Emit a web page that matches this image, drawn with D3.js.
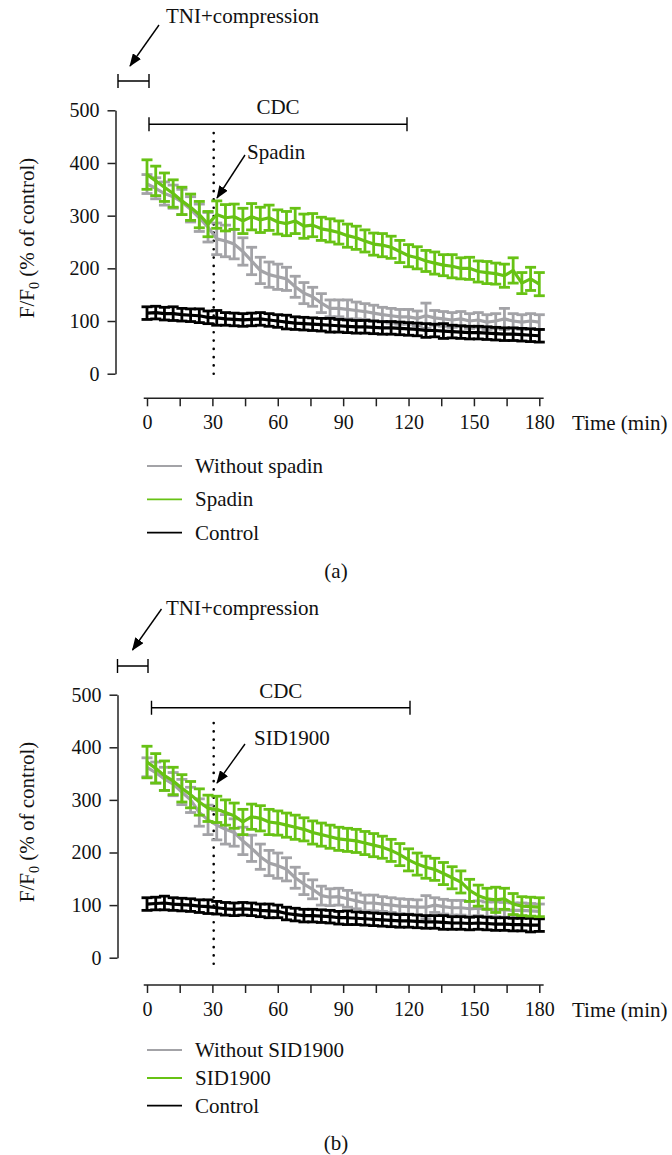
<!DOCTYPE html>
<html>
<head>
<meta charset="utf-8">
<script src="https://cdn.jsdelivr.net/npm/d3@7"></script>
<style>
  body { margin: 0; background: #fff; }
  svg { display: block; }
  svg text { font-family: 'Liberation Serif', 'Times New Roman', 'DejaVu Serif', serif; }
</style>
</head>
<body>
<svg id="chart" width="672" height="1155"></svg>
<script>
// sampling times (min)
const times = [0, 4, 8, 12, 16, 20, 24, 28, 32, 36, 40, 44, 48, 52, 56, 60, 64, 68, 72, 76,
    80, 84, 88, 92, 96, 100, 104, 108, 112, 116, 120, 124, 128, 132, 136, 140, 144, 148, 152, 156,
    160, 164, 168, 172, 176, 180];

// panel (a)
const aWithout = [360, 352, 342, 336, 326, 312, 296, 278, 256, 252, 246, 232, 214, 196, 188, 184, 180, 165, 153, 146,
    134, 124, 124, 122, 120, 118, 115, 112, 110, 108, 108, 105, 110, 106, 104, 102, 104, 100, 102, 98,
    100, 104, 100, 98, 100, 98];
const aWithoutErr = [18, 20, 22, 22, 24, 24, 26, 28, 30, 30, 28, 26, 26, 25, 24, 24, 22, 20, 20, 18,
    18, 16, 16, 18, 16, 15, 15, 14, 14, 14, 14, 14, 24, 14, 14, 14, 14, 14, 14, 14,
    14, 20, 14, 14, 14, 14];
const aSpadin = [378, 366, 354, 342, 328, 316, 302, 284, 302, 296, 298, 290, 298, 292, 296, 288, 285, 290, 280, 282,
    275, 272, 268, 262, 258, 252, 246, 244, 240, 232, 224, 220, 214, 210, 206, 204, 200, 200, 194, 192,
    190, 186, 196, 172, 180, 170];
const aSpadinErr = [28, 28, 27, 26, 26, 25, 25, 24, 26, 25, 24, 24, 25, 24, 24, 23, 23, 24, 23, 22,
    22, 22, 22, 22, 22, 21, 21, 22, 21, 21, 21, 21, 20, 21, 20, 22, 20, 21, 20, 21,
    20, 22, 24, 20, 22, 22];
const aControl = [115, 116, 114, 114, 112, 111, 110, 107, 106, 104, 103, 102, 103, 104, 102, 100, 98, 96, 95, 94,
    93, 92, 91, 90, 89, 89, 88, 87, 87, 86, 85, 84, 82, 82, 81, 80, 79, 78, 78, 77,
    76, 75, 75, 74, 73, 72];
const aControlErr = [12, 12, 12, 13, 12, 12, 13, 12, 14, 12, 12, 12, 12, 12, 12, 12, 13, 12, 12, 12,
    12, 13, 12, 12, 12, 12, 12, 12, 12, 12, 12, 12, 13, 12, 14, 12, 12, 12, 12, 12,
    12, 12, 12, 12, 12, 12];

// panel (b)
const bWithout = [362, 352, 340, 330, 315, 300, 276, 262, 252, 244, 238, 222, 208, 192, 180, 175, 168, 152, 140, 130,
    118, 115, 116, 112, 108, 104, 104, 102, 100, 98, 97, 96, 96, 100, 97, 95, 95, 93, 94, 92,
    92, 91, 90, 90, 89, 88];
const bWithoutErr = [18, 20, 22, 22, 24, 24, 26, 28, 28, 28, 26, 26, 25, 24, 24, 24, 22, 20, 20, 18,
    18, 16, 16, 16, 15, 15, 15, 14, 14, 14, 14, 14, 22, 14, 14, 14, 14, 14, 14, 14,
    14, 14, 14, 14, 14, 14];
const bSid = [372, 360, 346, 336, 322, 310, 296, 284, 282, 276, 270, 258, 268, 265, 258, 256, 252, 248, 244, 238,
    234, 230, 226, 224, 222, 218, 214, 210, 204, 196, 186, 178, 172, 168, 160, 152, 144, 128, 118, 112,
    110, 112, 102, 98, 97, 96];
const bSidErr = [30, 28, 28, 26, 26, 25, 25, 25, 25, 24, 24, 24, 24, 24, 24, 23, 23, 23, 22, 22,
    22, 22, 22, 22, 22, 22, 22, 21, 21, 21, 21, 21, 21, 21, 21, 21, 21, 21, 20, 20,
    24, 20, 20, 18, 18, 18];
const bControl = [102, 103, 104, 102, 101, 100, 98, 97, 95, 93, 92, 93, 92, 90, 89, 88, 84, 82, 80, 80,
    79, 78, 76, 76, 75, 74, 73, 72, 71, 70, 70, 69, 68, 68, 67, 66, 66, 65, 66, 65,
    64, 64, 63, 63, 62, 62];
const bControlErr = [12, 12, 13, 12, 12, 12, 12, 13, 12, 12, 12, 12, 12, 12, 13, 12, 12, 12, 12, 12,
    12, 12, 12, 13, 12, 12, 12, 12, 12, 12, 12, 12, 12, 12, 13, 12, 12, 12, 12, 12,
    12, 12, 12, 12, 13, 12];

const yTicks = [0, 100, 200, 300, 400, 500],
    xTicks = [0, 15, 30, 45, 60, 75, 90, 105, 120, 135, 150, 165, 180],
    colors = { without: '#a3a3a7', drug: '#67c214', control: '#000000' },
    serif = "'Liberation Serif', 'Times New Roman', 'DejaVu Serif', serif",
    capHalf = 5.5;

const svg = d3.select('#chart').attr('font-family', serif);

svg.append('defs').append('marker')
    .attr('id', 'arrow')
    .attr('markerUnits', 'userSpaceOnUse')
    .attr('viewBox', '0 0 13 10')
    .attr('markerWidth', 13)
    .attr('markerHeight', 10)
    .attr('refX', 12)
    .attr('refY', 5)
    .attr('orient', 'auto')
  .append('path')
    .attr('d', 'M0,0 L13,5 L0,10 Z')
    .attr('fill', '#000');

function drawSeries(g, x, y, values, errs, color) {
    const pts = times.map((t, i) => ({ t, v: values[i], e: errs[i] }));

    g.append('path')
        .datum(pts)
        .attr('fill', 'none')
        .attr('stroke', color)
        .attr('stroke-width', 3.2)
        .attr('stroke-linejoin', 'round')
        .attr('d', d3.line().x(d => x(d.t)).y(d => y(d.v)));

    const bars = g.append('g')
        .attr('stroke', color)
        .attr('stroke-width', 2.8)
        .selectAll('g')
        .data(pts)
        .join('g');

    bars.append('line')
        .attr('x1', d => x(d.t)).attr('x2', d => x(d.t))
        .attr('y1', d => y(d.v - d.e)).attr('y2', d => y(d.v + d.e));
    bars.append('line')
        .attr('x1', d => x(d.t) - capHalf).attr('x2', d => x(d.t) + capHalf)
        .attr('y1', d => y(d.v + d.e)).attr('y2', d => y(d.v + d.e));
    bars.append('line')
        .attr('x1', d => x(d.t) - capHalf).attr('x2', d => x(d.t) + capHalf)
        .attr('y1', d => y(d.v - d.e)).attr('y2', d => y(d.v - d.e));
}

function bracket(g, x1, x2, yPos) {
    g.append('path')
        .attr('d', `M${x1},${yPos - 7}V${yPos + 7}M${x1},${yPos}H${x2}M${x2},${yPos - 7}V${yPos + 7}`)
        .attr('fill', 'none')
        .attr('stroke', '#000')
        .attr('stroke-width', 1.4);
}

function arrow(g, x1, y1, x2, y2) {
    g.append('line')
        .attr('x1', x1).attr('y1', y1)
        .attr('x2', x2).attr('y2', y2)
        .attr('stroke', '#000')
        .attr('stroke-width', 1.4)
        .attr('marker-end', 'url(#arrow)');
}

function label(g, txt, xPos, yPos, anchor) {
    return g.append('text')
        .attr('x', xPos)
        .attr('y', yPos)
        .attr('text-anchor', anchor || 'start')
        .attr('font-family', serif)
        .attr('font-size', 21)
        .attr('fill', '#111')
        .text(txt);
}

function drawPanel(p) {
    const g = svg.append('g'),
        x = d3.scaleLinear().domain([0, 180]).range([147, 539.3]),
        y = d3.scaleLinear().domain([0, 500]).range([p.y0, p.y500]);

    // y axis
    const yAxis = g.append('g')
        .attr('transform', `translate(${p.yAxisX},0)`)
        .call(d3.axisLeft(y).tickValues(yTicks).tickSize(8).tickSizeOuter(0).tickPadding(8));

    // x axis (offset from the y axis)
    const xAxis = g.append('g')
        .attr('transform', `translate(0,${p.xAxisY})`)
        .call(d3.axisBottom(x).tickValues(xTicks).tickSize(8).tickSizeOuter(0).tickPadding(9)
            .tickFormat(d => d % 30 === 0 ? d : ''));
    xAxis.select('.domain').remove();
    xAxis.append('line')
        .attr('x1', x(-1.5)).attr('x2', x(182))
        .attr('stroke', '#222').attr('stroke-width', 1.5);

    [yAxis, xAxis].forEach(a => {
        a.attr('font-family', serif).attr('font-size', 20);
        a.selectAll('text').attr('fill', '#111').attr('font-family', serif);
        a.selectAll('line, path').attr('stroke', '#222').attr('stroke-width', 1.5);
    });

    label(g, 'Time (min)', 572, p.xAxisY + 31.5);

    // y label
    const yl = g.append('text')
        .attr('transform', `translate(34,${p.yLabelY}) rotate(-90)`)
        .attr('text-anchor', 'middle')
        .attr('font-family', serif)
        .attr('font-size', 21)
        .attr('fill', '#111');
    yl.append('tspan').text('F/F');
    yl.append('tspan').attr('font-size', 14).attr('dy', 5).text('0');
    yl.append('tspan').attr('dy', -5).text(' (% of control)');

    // spadin / SID1900 onset
    g.append('line')
        .attr('x1', x(30.6)).attr('x2', x(30.6))
        .attr('y1', p.dotTop).attr('y2', p.dotBottom)
        .attr('stroke', '#000')
        .attr('stroke-width', 2.6)
        .attr('stroke-linecap', 'round')
        .attr('stroke-dasharray', '0.1 8.2');

    drawSeries(g, x, y, p.without, p.withoutErr, colors.without);
    drawSeries(g, x, y, p.control, p.controlErr, colors.control);
    drawSeries(g, x, y, p.drug, p.drugErr, colors.drug);

    // annotations
    bracket(g, p.tniX1, p.tniX2, p.tniY);
    label(g, 'TNI+compression', 166, p.tniTextY);
    arrow(g, p.tniArrow[0], p.tniArrow[1], p.tniArrow[2], p.tniArrow[3]);

    bracket(g, p.cdcX1, p.cdcX2, p.cdcY);
    label(g, 'CDC', (p.cdcX1 + p.cdcX2) / 2, p.cdcTextY, 'middle');

    label(g, p.drugName, p.drugTextX, p.drugTextY);
    arrow(g, p.drugArrow[0], p.drugArrow[1], p.drugArrow[2], p.drugArrow[3]);

    // legend
    const legend = [
        { name: p.withoutName, color: colors.without },
        { name: p.drugName, color: colors.drug },
        { name: 'Control', color: colors.control }
    ];
    legend.forEach((d, i) => {
        const ly = p.legendY[i];
        g.append('line')
            .attr('x1', 147).attr('x2', 182)
            .attr('y1', ly).attr('y2', ly)
            .attr('stroke', d.color)
            .attr('stroke-width', 1.8);
        label(g, d.name, 195, ly + 7);
    });

    label(g, p.tag, 336, p.tagY, 'middle');
}

drawPanel({
    y0: 373.7, y500: 110.3, yAxisX: 115.5, xAxisY: 398.3, yLabelY: 238,
    dotTop: 133, dotBottom: 382,
    tniX1: 118, tniX2: 149, tniY: 81, tniTextY: 23, tniArrow: [159, 25, 130, 66],
    cdcX1: 149, cdcX2: 407, cdcY: 124.3, cdcTextY: 114,
    drugName: 'Spadin', drugTextX: 247, drugTextY: 159, drugArrow: [245, 155, 217, 198],
    withoutName: 'Without spadin',
    legendY: [466, 499.3, 532.7], tag: '(a)', tagY: 578,
    without: aWithout, withoutErr: aWithoutErr,
    drug: aSpadin, drugErr: aSpadinErr,
    control: aControl, controlErr: aControlErr
});

drawPanel({
    y0: 957.7, y500: 694.7, yAxisX: 117.5, xAxisY: 985, yLabelY: 822,
    dotTop: 723, dotBottom: 972,
    tniX1: 117.5, tniX2: 148, tniY: 666, tniTextY: 615, tniArrow: [161.5, 609, 132.5, 650],
    cdcX1: 151.5, cdcX2: 410, cdcY: 707.7, cdcTextY: 698,
    drugName: 'SID1900', drugTextX: 254, drugTextY: 745, drugArrow: [245, 744, 217, 783],
    withoutName: 'Without SID1900',
    legendY: [1050, 1078, 1105.7], tag: '(b)', tagY: 1150,
    without: bWithout, withoutErr: bWithoutErr,
    drug: bSid, drugErr: bSidErr,
    control: bControl, controlErr: bControlErr
});
</script>
</body>
</html>
